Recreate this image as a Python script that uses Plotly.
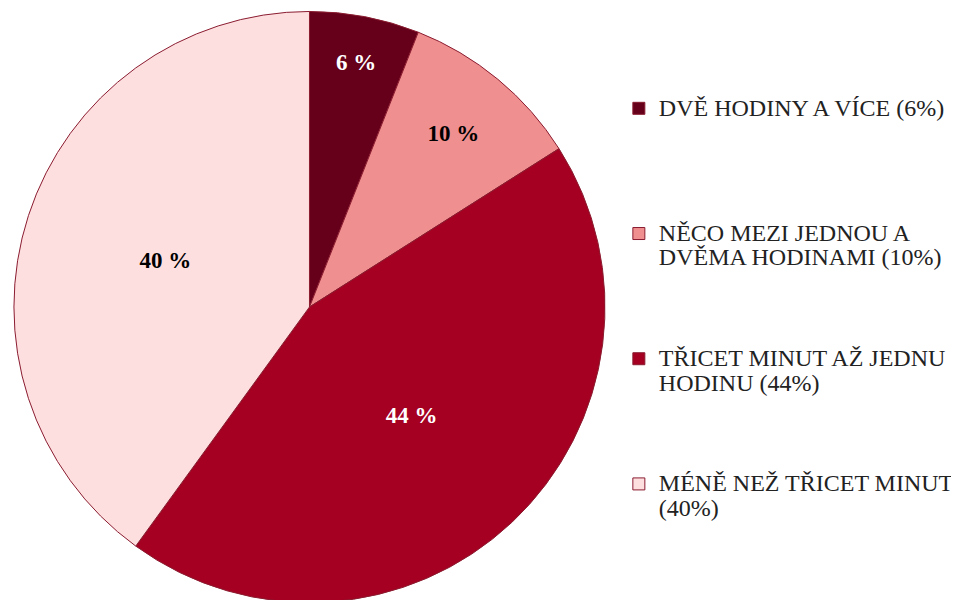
import plotly.graph_objects as go

categories = [
    "DVĚ HODINY A VÍCE (6%)",
    "NĚCO MEZI JEDNOU A<br>DVĚMA HODINAMI (10%)",
    "TŘICET MINUT AŽ JEDNU<br>HODINU (44%)",
    "MÉNĚ NEŽ TŘICET MINUT<br>(40%)",
]
values = [6, 10, 44, 40]
colors = ["#66001a", "#f08f8f", "#a50021", "#fedfe0"]
text_colors = ["white", "black", "white", "black"]

W, H = 951, 600
LINES_PER_ITEM = 5


def legend_label(txt):
    n = txt.count("<br>") + 1
    pad = "<br> " * (LINES_PER_ITEM - n)
    return "<span style='font-size:24px'>" + txt.replace("<br>", "</span><br><span style='font-size:24px'>") + "</span>" + pad


fig = go.Figure(
    go.Pie(
        labels=[legend_label(c) for c in categories],
        values=values,
        sort=False,
        direction="clockwise",
        rotation=0,
        marker=dict(colors=colors, line=dict(color="#8a1c30", width=1)),
        texttemplate="%{value} %",
        textposition="inside",
        insidetextorientation="horizontal",
        textfont=dict(family="Liberation Serif", size=23, color=text_colors, weight="bold"),
        hoverinfo="percent",
        domain=dict(x=[6 / W, 604 / W], y=[2 / H, 1.0]),
    )
)

fig.update_layout(
    width=W,
    height=H,
    margin=dict(l=0, r=0, t=0, b=0),
    paper_bgcolor="white",
    plot_bgcolor="white",
    showlegend=True,
    legend=dict(
        x=618 / W,
        y=0.864,
        xanchor="left",
        yanchor="top",
        valign="top",
        font=dict(family="Liberation Serif", size=18.8, color="#222222"),
        traceorder="normal",
    ),
)

fig.write_html("out.html")
